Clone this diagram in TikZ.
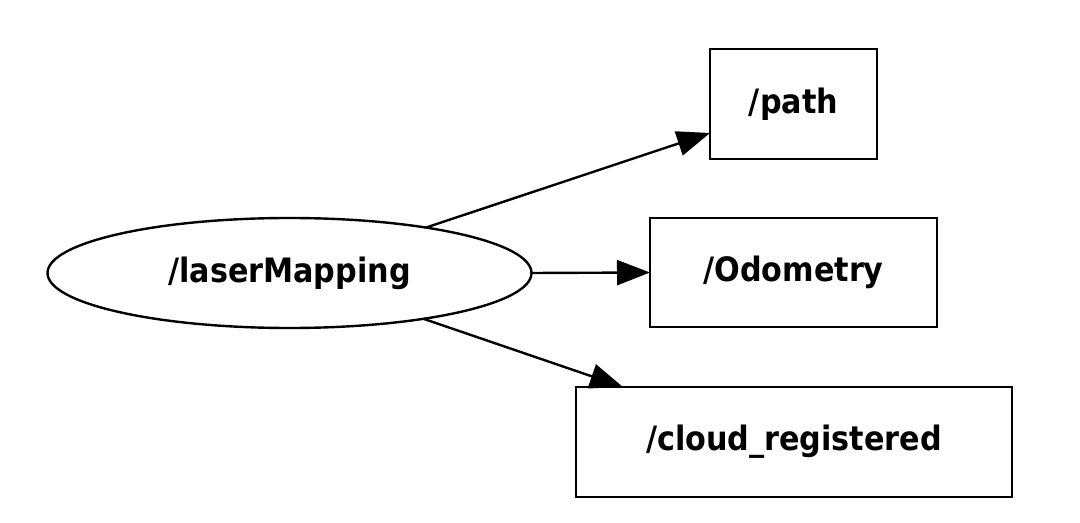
\documentclass[tikz,border=0pt]{standalone}
\usepackage{fontspec}
\setmainfont{DejaVu Sans Condensed}
\usetikzlibrary{shapes.geometric,arrows.meta}
\begin{document}
\begin{tikzpicture}[x=0.5pt,y=-0.5pt,
  lbl/.style={font=\fontsize{16.8}{20}\selectfont\bfseries},
  box/.style={lbl, draw, line width=1.2pt, rectangle, inner sep=0pt, outer sep=0pt},
  topicnode/.style={lbl, draw, line width=1.2pt, ellipse, inner sep=0pt, outer sep=0pt,
    minimum width=242pt, minimum height=55pt},
  edge/.style={line width=1.2pt, -{Triangle[length=16.5pt,width=12.5pt]}}]
\useasboundingbox (0,0) rectangle (1080,523);
\node[topicnode] (lm) at (289.5,273) {/laserMapping};
\node[box, minimum width=83.5pt, minimum height=55pt] (path) at (793.5,104) {/path};
\node[box, minimum width=143.5pt, minimum height=54.5pt] (odom) at (793.5,272.5) {/Odometry};
\node[box, minimum width=218pt, minimum height=55pt] (cloud) at (794,442) {/cloud\_registered};
\coordinate (pathin) at (710,133);
\coordinate (cloudin) at (623,387);
\draw[edge] (lm) -- (pathin);
\draw[edge] (lm.east) -- (odom.west);
\draw[edge] (lm) -- (cloudin);
\end{tikzpicture}
\end{document}
